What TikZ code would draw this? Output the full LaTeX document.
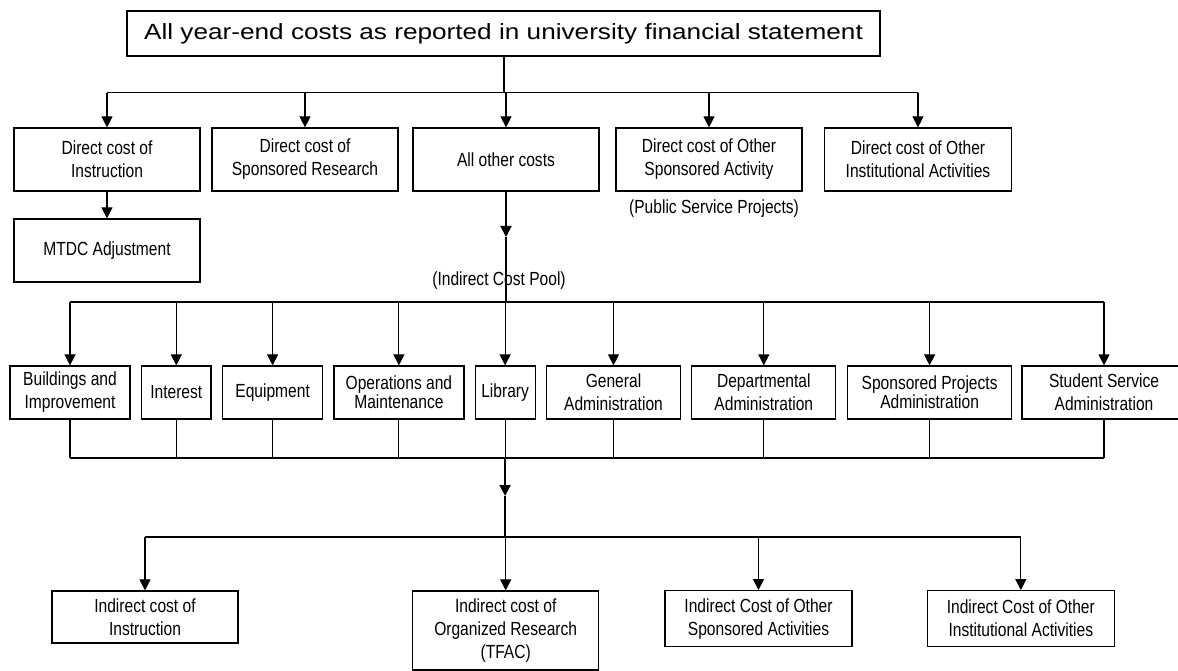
\documentclass[tikz,border=0pt]{standalone}
\usepackage{fontspec}
\setmainfont{Liberation Sans}
\newfontfamily\smallf[FakeStretch=0.82]{Liberation Sans}
\newfontfamily\topf[FakeStretch=1.19]{Liberation Sans}
\usetikzlibrary{arrows.meta,calc}
\tikzset{
  box/.style={draw, line width=1.2pt, inner sep=0pt, align=center,
    font=\smallf\fontsize{19pt}{23pt}\selectfont},
  tightbox/.style={box, font=\smallf\fontsize{19pt}{19pt}\selectfont},
  lbl/.style={inner sep=0pt, font=\smallf\fontsize{19pt}{23pt}\selectfont},
  ln/.style={line width=1.1pt},
  hln/.style={line width=1.6pt},
  trunk/.style={line width=2pt},
  arr/.style={-{Triangle[length=11pt,width=11pt]}, line width=1.1pt},
  tarr/.style={-{Triangle[length=11pt,width=11pt]}, line width=2pt}
}
\begin{document}
\begin{tikzpicture}[x=1pt,y=-1pt]
\useasboundingbox (0,0) rectangle (1178,671);
% top
\node[draw, line width=1.2pt, inner sep=0pt, minimum width=753pt, minimum height=45pt,
  font=\topf\fontsize{22pt}{26pt}\selectfont] (top) at (503.5,33.5)
  {All year-end costs as reported in university financial statement};
% row 1
\node[box, minimum width=186pt, minimum height=63pt] (d1) at (107,159.5) {Direct cost of\\Instruction};
\node[box, minimum width=186pt, minimum height=63pt] (d2) at (305,159.5) {Direct cost of\\Sponsored Research};
\node[box, minimum width=186pt, minimum height=63pt] (d3) at (506,159.5) {All other costs};
\node[box, minimum width=186pt, minimum height=63pt] (d4) at (709,159.5) {Direct cost of Other\\Sponsored Activity};
\node[box, minimum width=187pt, minimum height=63pt] (d5) at (918,159.5) {Direct cost of Other\\Institutional Activities};
\node[box, minimum width=186pt, minimum height=63pt] (mtdc) at (107,250.5) {MTDC Adjustment};
\node[lbl] (psp) at (714,209) {(Public Service Projects)};
% connectors top -> row 1
\coordinate (j1) at ($(top.south)+(0,36)$);
\draw[trunk] (top.south) -- (j1);
\draw[hln] (d1.north |- j1) -- (d5.north |- j1);
\foreach \n in {d1,d2,d3,d4,d5} \draw[arr] (\n.north |- j1) -- (\n.north);
\draw[arr] (d1) -- (mtdc);
% indirect cost pool
\node[lbl] (icp) at (499,281) {(Indirect Cost Pool)};
\coordinate (a1) at (d3.south |- 0,237);
\coordinate (j2) at (d3.south |- 0,302);
\draw[tarr] (d3.south) -- (a1);
\draw[trunk] (a1) -- (j2);
% row 2
\node[box, minimum width=120pt, minimum height=53pt] (b1) at (70,392.5) {Buildings and\\Improvement};
\node[box, minimum width=69.4pt, minimum height=53pt] (b2) at (176.3,392.5) {Interest};
\node[box, minimum width=100pt, minimum height=53pt] (b3) at (272.6,392.5) {Equipment};
\node[tightbox, minimum width=130pt, minimum height=53pt] (b4) at (398.9,392.5) {Operations and\\Maintenance};
\node[box, minimum width=60pt, minimum height=53pt] (b5) at (505.1,392.5) {Library};
\node[box, minimum width=134pt, minimum height=53pt] (b6) at (613.5,392.5) {General\\Administration};
\node[box, minimum width=144pt, minimum height=53pt] (b7) at (763.8,392.5) {Departmental\\Administration};
\node[tightbox, minimum width=164pt, minimum height=53pt] (b8) at (929.6,392.5) {Sponsored Projects\\Administration};
\node[box, minimum width=164pt, minimum height=53pt] (b9) at (1104,392.5) {Student Service\\Administration};
\draw[hln] (b1.north |- j2) -- (b9.north |- j2);
\foreach \n in {b1,b2,b3,b4,b5,b6,b7,b8,b9} \draw[arr] (\n.north |- j2) -- (\n.north);
% collect
\coordinate (j3) at (b5.south |- 0,458);
\foreach \n in {b1,b2,b3,b4,b5,b6,b7,b8,b9} \draw[ln] (\n.south) -- (\n.south |- j3);
\draw[hln] (b1.south |- j3) -- (b9.south |- j3);
\coordinate (a2) at (b5.south |- 0,496);
\coordinate (j4) at (b5.south |- 0,537);
\draw[tarr] (j3) -- (a2);
\draw[trunk] (a2) -- (j4);
% bottom row
\node[box, minimum width=186pt, minimum height=52pt] (c1) at (145,617) {Indirect cost of\\Instruction};
\node[box, minimum width=186pt, minimum height=79pt] (c2) at (505.7,630.5) {Indirect cost of\\Organized Research\\(TFAC)};
\node[box, minimum width=187pt, minimum height=56pt] (c3) at (758.5,618.7) {Indirect Cost of Other\\Sponsored Activities};
\node[box, minimum width=187pt, minimum height=56pt] (c4) at (1020.8,618.7) {Indirect Cost of Other\\Institutional Activities};
\draw[ln] (c1.north |- j4) -- (c4.north |- j4);
\foreach \n in {c1,c2,c3,c4} \draw[arr] (\n.north |- j4) -- (\n.north);
\end{tikzpicture}
\end{document}
